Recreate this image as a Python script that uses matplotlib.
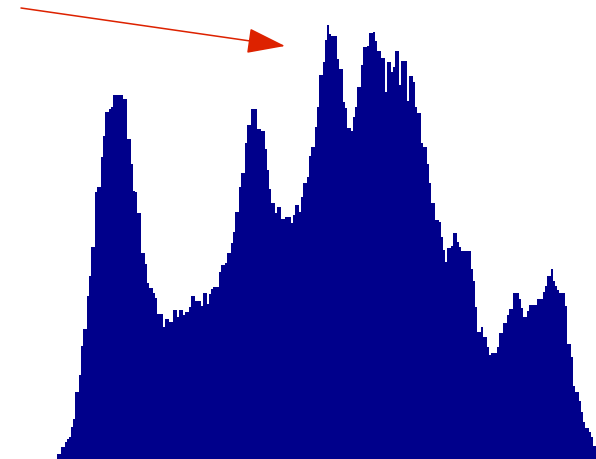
import numpy as np
import matplotlib
matplotlib.use("Agg")
import matplotlib.pyplot as plt

# Histogram counts, one per bin
counts = [
    5, 5, 12, 12, 17, 20, 22, 32, 40, 67,
    67, 84, 113, 130, 130, 163, 183, 212, 212, 267,
    272, 272, 302, 323, 347, 347, 350, 352, 364, 364,
    364, 364, 364, 360, 360, 320, 320, 295, 268, 267,
    246, 246, 206, 206, 195, 176, 171, 171, 166, 161,
    145, 145, 145, 132, 140, 140, 137, 137, 149, 149,
    142, 149, 149, 144, 147, 147, 152, 163, 163, 158,
    158, 158, 153, 166, 166, 155, 165, 170, 172, 172,
    172, 187, 194, 194, 196, 206, 206, 216, 227, 247,
    247, 272, 286, 286, 316, 334, 334, 350, 350, 350,
    330, 330, 328, 328, 310, 289, 270, 256, 256, 246,
    252, 252, 240, 240, 242, 242, 242, 236, 244, 254,
    254, 247, 262, 276, 276, 282, 303, 312, 312, 332,
    352, 384, 384, 397, 419, 434, 425, 423, 423, 423,
    400, 390, 390, 357, 351, 331, 331, 328, 342, 352,
    372, 372, 394, 412, 412, 413, 426, 426, 427, 418,
    408, 408, 401, 401, 367, 397, 397, 387, 392, 408,
    408, 374, 398, 398, 398, 358, 383, 383, 377, 352,
    346, 346, 316, 312, 312, 295, 276, 256, 256, 239,
    239, 237, 222, 209, 197, 211, 211, 213, 226, 226,
    217, 212, 208, 208, 208, 208, 208, 190, 178, 152,
    127, 127, 132, 122, 122, 112, 104, 106, 106, 106,
    112, 126, 126, 136, 136, 144, 150, 150, 166, 166,
    166, 160, 151, 142, 142, 148, 154, 154, 154, 154,
    160, 160, 160, 167, 173, 183, 183, 190, 178, 173,
    169, 166, 166, 166, 153, 115, 115, 102, 73, 67,
    67, 58, 47, 37, 31, 31, 27, 22, 13, 13,
]
bin_edges = np.arange(len(counts) + 1)

fill_color = "#00008b"
arrow_color = "#dd2200"

fig = plt.figure(figsize=(5.96, 4.60), dpi=100)
fig.patch.set_facecolor("white")
ax = fig.add_axes([0, 0, 1, 1])
ax.set_facecolor("white")

ax.stairs(counts, bin_edges, fill=True, color=fill_color, linewidth=0)

ax.set_xlim(-28.5, 269.5)
ax.set_ylim(0, 460)
ax.axis("off")

# Red arrow pointing at the tallest peak
ax.annotate(
    "",
    xy=(285, 413), xycoords="figure pixels",
    xytext=(21, 451), textcoords="figure pixels",
    arrowprops=dict(arrowstyle="-|>,head_length=2.4,head_width=0.8",
                    color=arrow_color, lw=1.1, shrinkA=0, shrinkB=0,
                    mutation_scale=10),
)

fig.savefig("out.png", dpi=100, facecolor="white")
